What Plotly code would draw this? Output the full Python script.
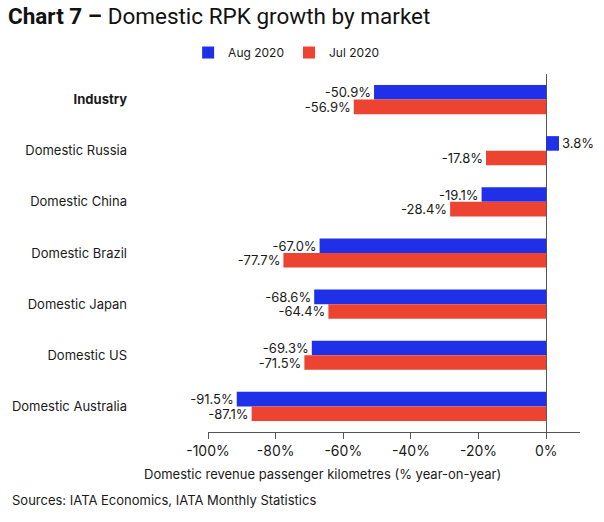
import plotly.graph_objects as go

markets = ["Industry", "Domestic Russia", "Domestic China", "Domestic Brazil",
           "Domestic Japan", "Domestic US", "Domestic Australia"]
market_labels = ["<b>Industry</b>", "Domestic Russia", "Domestic China", "Domestic Brazil",
                 "Domestic Japan", "Domestic US", "Domestic Australia"]
aug_2020 = [-50.9, 3.8, -19.1, -67.0, -68.6, -69.3, -91.5]
jul_2020 = [-56.9, -17.8, -28.4, -77.7, -64.4, -71.5, -87.1]
x_ticks = [-100, -80, -60, -40, -20, 0]
x_tick_labels = ["-100%", "-80%", "-60%", "-40%", "-20%", "0%"]

FONT = "Inter, Roboto, sans-serif"
BLUE = "#1f30e8"
RED = "#ec4430"
TXT = "#1a1a1a"

fig = go.Figure()
for name, vals, col in [("Aug 2020", aug_2020, BLUE), ("Jul 2020", jul_2020, RED)]:
    fig.add_trace(go.Bar(
        y=markets, x=vals, name=name, orientation="h",
        marker=dict(color=col, line=dict(width=0)),
        text=[f"{v:.1f}%" for v in vals], textposition="outside",
        constraintext="none",
        textfont=dict(size=13, color=TXT, family=FONT),
        cliponaxis=False,
    ))

fig.update_layout(
    width=604, height=522,
    barmode="group", bargap=0.43, bargroupgap=0,
    plot_bgcolor="white", paper_bgcolor="white",
    margin=dict(l=208, r=24, t=74, b=90),
    font=dict(family=FONT, color=TXT, size=13),
    title=dict(text="<b>Chart 7 –</b> Domestic RPK growth by market",
               x=8/604, xanchor="left", xref="container",
               y=1 - 16/522, yanchor="middle", yref="container",
               font=dict(size=22.5, color="#111111", family="Roboto, sans-serif")),
    legend=dict(orientation="h", x=0.21, xanchor="center", y=1.06, yanchor="middle",
                font=dict(size=12, color=TXT), itemwidth=30, traceorder="normal",
                bgcolor="rgba(0,0,0,0)"),
    showlegend=True,
)
fig.update_xaxes(
    range=[-100, 10], tickvals=x_ticks, ticktext=x_tick_labels,
    showgrid=False, zeroline=True, zerolinecolor="#555555", zerolinewidth=1,
    showline=True, linecolor="#555555", linewidth=1,
    ticks="outside", ticklen=6, tickcolor="#555555",
    tickfont=dict(size=14, color=TXT),
)
fig.update_yaxes(
    categoryorder="array", categoryarray=markets, autorange="reversed",
    tickvals=markets, ticktext=market_labels,
    showgrid=False, zeroline=False, showline=False, ticks="",
    ticklabelstandoff=80, tickfont=dict(size=13, color=TXT),
)
fig.add_annotation(text="Domestic revenue passenger kilometres (% year-on-year)",
                   xref="paper", yref="paper", x=(322-208)/372, y=-(474-432)/358,
                   xanchor="center", yanchor="middle", showarrow=False,
                   font=dict(size=13, color=TXT))
fig.add_annotation(text="Sources: IATA Economics, IATA Monthly Statistics",
                   xref="paper", yref="paper", x=-(208-10)/372, y=-(500-432)/358,
                   xanchor="left", yanchor="middle", showarrow=False,
                   font=dict(size=13, color=TXT))

fig.write_html("out.html")
